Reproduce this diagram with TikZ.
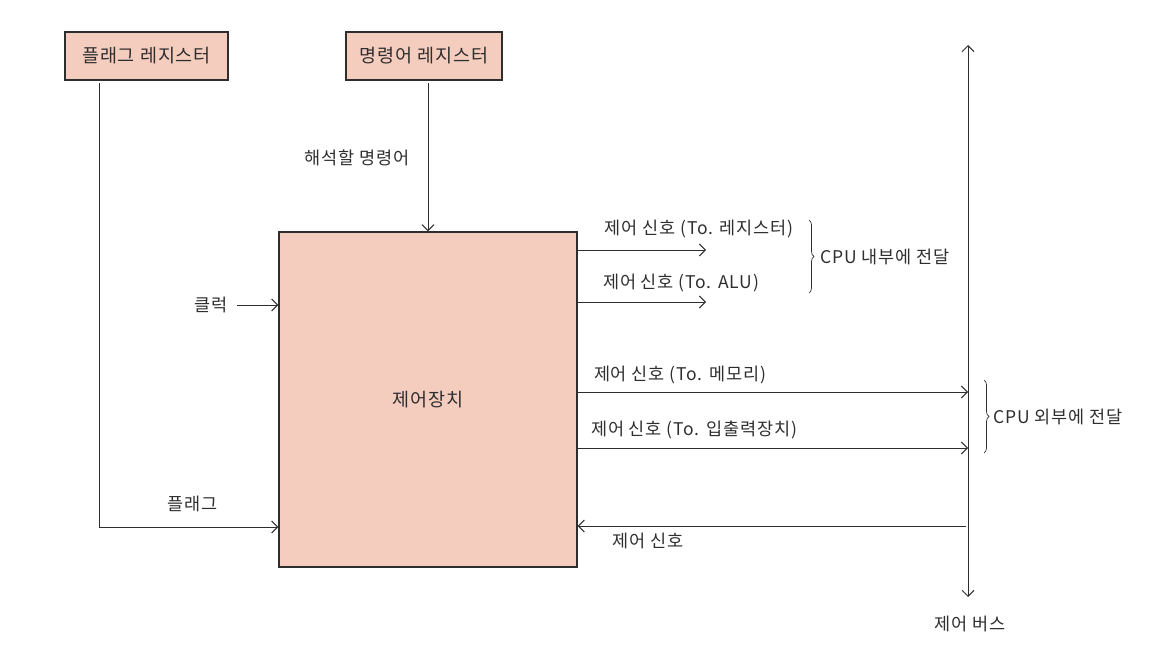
\documentclass[tikz,border=0pt]{standalone}
\usepackage{fontspec}
\setmainfont{Noto Sans CJK KR}[LetterSpace=5]
\usetikzlibrary{arrows.meta,decorations.pathreplacing}
\definecolor{boxfill}{HTML}{F4CDBE}
\definecolor{ink}{HTML}{2E2E2E}
\tikzset{
  regbox/.style={draw=ink,line width=1.3pt,fill=boxfill,minimum height=48pt,inner sep=0pt,font=\fontsize{18.5}{20}\selectfont,text=ink},
  lbl/.style={font=\fontsize{17.5}{19}\selectfont,text=ink,inner sep=0pt},
  conn/.style={draw=ink,line width=1pt,-{Straight Barb[length=6pt,width=12pt,line width=1pt]}},
  brc/.style={draw=ink,line width=0.7pt,decorate,decoration={brace,amplitude=5pt}}
}
\begin{document}
\begin{tikzpicture}[x=1pt,y=-1pt]
\useasboundingbox (0,0) rectangle (1176,667);
% registers
\node[regbox,minimum width=163pt] (flagreg) at (146.5,56) {플래그 레지스터};
\node[regbox,minimum width=156pt] (instreg) at (424,56) {명령어 레지스터};
% control unit
\node[draw=ink,line width=1.3pt,fill=boxfill,minimum width=298pt,minimum height=335pt,inner sep=0pt,font=\fontsize{18.5}{20}\selectfont,text=ink] (cu) at (428,399.5) {제어장치};
% coordinates
\coordinate (flagtop) at (99,83);
\coordinate (flagcorner) at (99,527);
\coordinate (instbot) at (428,83);
\coordinate (clkstart) at (237,305);
\coordinate (bustop) at (968,45);
\coordinate (busbot) at (968,597);
\coordinate (r1) at (706,250);
\coordinate (r2) at (706,302);
\coordinate (r3) at (968,392);
\coordinate (r4) at (968,448);
\coordinate (backstart) at (966,526);
% flag line
\draw[conn] (flagtop) -- (flagcorner) -- (cu.west |- flagcorner);
\node[lbl] (flaglbl) at (193,504) {플래그};
% instruction
\draw[conn] (instbot) -- (cu.north -| instbot);
\node[lbl] (instlbl) at (357,158) {해석할 명령어};
% clock
\node[lbl] (clk) at (211,305) {클럭};
\draw[conn] (clkstart) -- (cu.west |- clkstart);
% outputs
\draw[conn] (cu.east |- r1) -- (r1);
\node[lbl] (l1) at (699,229) {제어 신호 (To. 레지스터)};
\draw[conn] (cu.east |- r2) -- (r2);
\node[lbl] (l2) at (681,283) {제어 신호 (To. ALU)};
\draw[conn] (cu.east |- r3) -- (r3);
\node[lbl] (l3) at (680,375) {제어 신호 (To. 메모리)};
\draw[conn] (cu.east |- r4) -- (r4);
\node[lbl] (l4) at (694,430) {제어 신호 (To. 입출력장치)};
% braces
\coordinate (b1t) at (809,220);
\coordinate (b1b) at (809,293);
\draw[brc] (b1t) -- (b1b);
\node[lbl,anchor=west] (in) at (820,257) {CPU 내부에 전달};
\coordinate (b2t) at (984,380);
\coordinate (b2b) at (984,453);
\draw[brc] (b2t) -- (b2b);
\node[lbl,anchor=west] (out) at (993,417) {CPU 외부에 전달};
% bus
\draw[conn,{Straight Barb[length=6pt,width=12pt,line width=1pt]}-{Straight Barb[length=6pt,width=12pt,line width=1pt]}] (bustop) -- (busbot);
\node[lbl] (bus) at (970,624) {제어 버스};
\draw[conn] (backstart) -- (cu.east |- backstart);
\node[lbl] (back) at (648,541) {제어 신호};
\end{tikzpicture}
\end{document}
